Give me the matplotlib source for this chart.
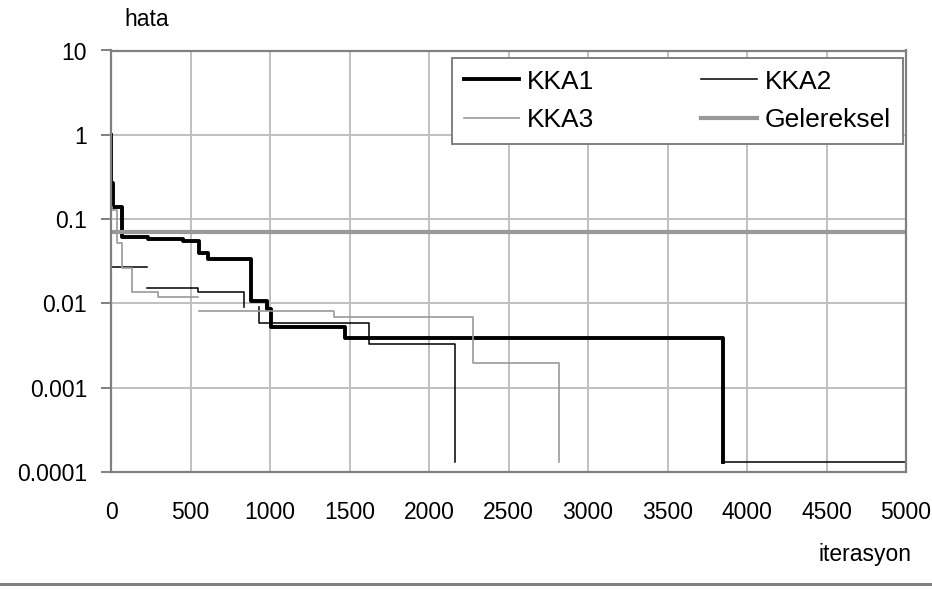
import numpy as np
import matplotlib
matplotlib.use("Agg")
import matplotlib.pyplot as plt
from matplotlib.lines import Line2D

plt.rcParams['font.family'] = ['Liberation Sans', 'DejaVu Sans']

# values (nan = gap in the series)
kka1_x = [0, 0, 13, 13, 69, 69, 235, 235, 455, 455, 555, 555, 610, 610, 878, 878,
          979, 979, 1008, 1008, 1472, 1472, 3847, 3847, 5000]
kka1_y = [1.0, 0.268, 0.268, 0.14, 0.14, 0.0618, 0.0618, 0.0586, 0.0586, 0.0555, 0.0555,
          0.0393, 0.0393, 0.0333, 0.0333, 0.0107, 0.0107, 0.0085, 0.0085, 0.00519, 0.00519,
          0.00385, 0.00385, 0.00013, 0.00013]

kka2_x = [0, 0, 224, np.nan, 228, 549, 549, 836, 836, np.nan, 931, 931, 1624, 1624, 2164, 2164]
kka2_y = [0.07, 0.0272, 0.0272, np.nan, 0.0154, 0.0154, 0.0138, 0.0138, 0.0091, np.nan,
          0.0091, 0.0059, 0.0059, 0.00332, 0.00332, 0.00013]

kka3_x = [9, 9, 36, 36, 67, 67, 130, 130, 297, 297, 549, np.nan, 555, 1400, 1400,
          2279, 2279, 2818, 2818]
kka3_y = [0.14, 0.128, 0.128, 0.0516, 0.0516, 0.0261, 0.0261, 0.0138, 0.0138, 0.0119, 0.0119,
          np.nan, 0.0081, 0.0081, 0.00695, 0.00695, 0.00198, 0.00198, 0.00013]

gel_x = [0, 5000]
gel_y = [0.07, 0.07]

x_ticks = [0, 500, 1000, 1500, 2000, 2500, 3000, 3500, 4000, 4500, 5000]
y_ticks = [0.0001, 0.001, 0.01, 0.1, 1, 10]
y_labels = ["0.0001", "0.001", "0.01", "0.1", "1", "10"]

fs = 16.5
leg_fs = 19
edge = "#808080"

fig = plt.figure(figsize=(9.32, 5.89), dpi=100)
ax = fig.add_axes([111 / 932, 1 - 472 / 589, 795 / 932, 421.5 / 589])

l1, = ax.plot(kka1_x[:-1], kka1_y[:-1], color="black", lw=2.8, label="KKA1")
ax.plot(kka1_x[-2:], kka1_y[-2:], color="black", lw=1.1)
l2, = ax.plot(kka2_x, kka2_y, color="black", lw=1.1, label="KKA2")
l3, = ax.plot(kka3_x, kka3_y, color="#999999", lw=1.2, label="KKA3")
l4, = ax.plot(gel_x, gel_y, color="#999999", lw=3.0, label="Gelereksel")

ax.set_yscale("log")
ax.set_ylim(0.0001, 10)
ax.set_xlim(0, 5000)
ax.set_xticks(x_ticks)
ax.set_xticklabels([str(t) for t in x_ticks])
ax.set_yticks(y_ticks)
ax.set_yticklabels(y_labels)
ax.minorticks_off()
ax.grid(True, color="#c0c0c0", lw=1.4)
ax.set_axisbelow(True)
for s in ax.spines.values():
    s.set_color(edge)
    s.set_linewidth(1.6)
ax.tick_params(axis="y", length=7.2, width=1.4, color=edge, pad=10, labelsize=fs)
ax.tick_params(axis="x", length=0, pad=21, labelsize=fs)

leg = ax.legend(handles=[l1, l3, l2, l4], ncol=2, loc="upper left",
                bbox_to_anchor=(0.429, 0.783, 0.567, 0.2), mode="expand",
                borderaxespad=0, fancybox=False, framealpha=1, edgecolor=edge,
                fontsize=leg_fs, handlelength=2.1, handletextpad=0.3,
                labelspacing=0.55, borderpad=0.45)
leg.get_frame().set_linewidth(1.4)

fig.text(124 / 932, 1 - 20 / 589, "hata", fontsize=fs, ha="left", va="center")
fig.text(912 / 932, 1 - 555 / 589, "iterasyon", fontsize=fs, ha="right", va="center")
fig.add_artist(Line2D([0, 1], [1 - 584 / 589, 1 - 584 / 589], color=edge, lw=2.2))

fig.savefig("out.png", dpi=100)
